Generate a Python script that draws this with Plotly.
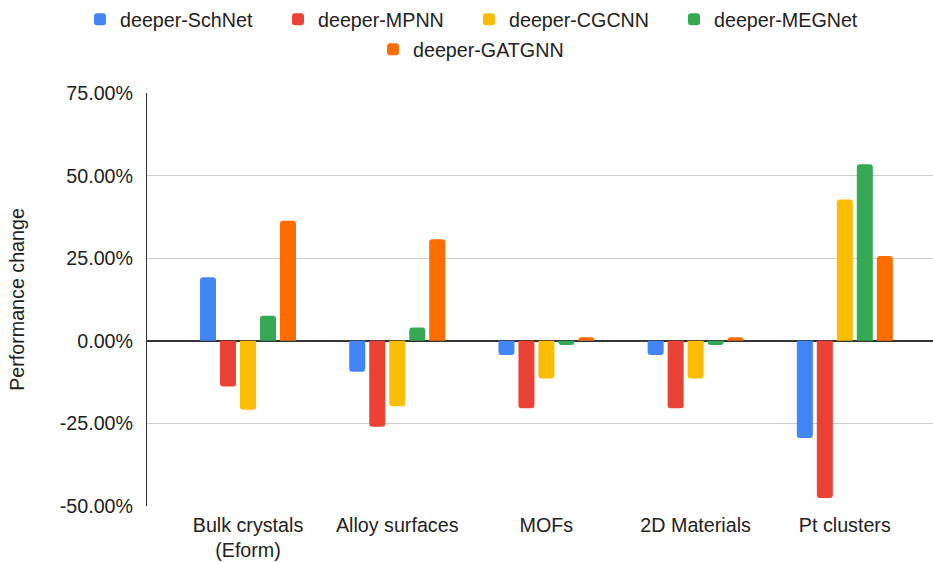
import plotly.graph_objects as go

categories = ["Bulk crystals<br>(Eform)", "Alloy surfaces", "MOFs", "2D Materials", "Pt clusters"]
series_names = ["deeper-SchNet", "deeper-MPNN", "deeper-CGCNN", "deeper-MEGNet", "deeper-GATGNN"]
schnet = [19.2, -9.4, -4.3, -4.3, -29.4]
mpnn = [-13.8, -26.0, -20.4, -20.4, -47.6]
cgcnn = [-20.9, -19.8, -11.4, -11.4, 42.8]
megnet = [7.6, 4.0, -1.3, -1.3, 53.4]
gatgnn = [36.3, 30.7, 1.1, 1.1, 25.7]
colors = ["#4285F4", "#EA4335", "#FBBC04", "#34A853", "#FF6D01"]
y_ticks = [-50, -25, 0, 25, 50, 75]
y_tick_text = ["-50.00%", "-25.00%", "0.00%", "25.00%", "50.00%", "75.00%"]

series_values = [schnet, mpnn, cgcnn, megnet, gatgnn]

W, H = 933, 562
FS = 19.7
TXT = "#222222"
font = "Arial, Liberation Sans, sans-serif"

# legend item layout: (left px, centre y px from top)
legend_pos = [(89, 19.5), (287, 19.5), (478, 19.5), (683, 19.5), (382, 49.5)]
LEG_OFF = 9  # distance from legend box left to marker left

fig = go.Figure()
legend_layout = {}
for i, (name, vals, col) in enumerate(zip(series_names, series_values, colors)):
    lname = "legend" if i == 0 else f"legend{i+1}"
    fig.add_trace(go.Bar(
        x=categories, y=vals, name=name,
        marker=dict(color=col, line=dict(width=0)),
        legend=lname, showlegend=True,
    ))
    lx, ly = legend_pos[i]
    legend_layout[lname] = dict(
        orientation="h", xref="container", yref="container",
        x=(lx - LEG_OFF) / W, xanchor="left", y=1 - ly / H, yanchor="middle",
        font=dict(size=FS, color=TXT, family=font), bgcolor="rgba(0,0,0,0)",
    )

fig.update_layout(
    width=W, height=H, showlegend=True,
    margin=dict(l=147, r=0, t=92.5, b=56, autoexpand=False),
    paper_bgcolor="white", plot_bgcolor="white",
    font=dict(family=font, size=FS, color=TXT),
    barmode="group", bargap=0.33, bargroupgap=0.2, barcornerradius=3,
    xaxis=dict(type="category", range=[-0.677, 4.591], showgrid=False,
               showline=False, ticks="", tickfont=dict(size=FS, color=TXT),
               ticklabelstandoff=5, automargin=False),
    yaxis=dict(range=[-50, 75], tickvals=y_ticks, ticktext=y_tick_text,
               showgrid=True, gridcolor="#cccccc", gridwidth=1,
               zeroline=True, zerolinecolor="#333333", zerolinewidth=1.5,
               showline=True, linecolor="#333333", linewidth=1,
               ticks="", ticklabelstandoff=9, automargin=False,
               tickfont=dict(size=FS, color=TXT),
               title=dict(text="Performance change", font=dict(size=FS, color=TXT), standoff=29)),
    **legend_layout,
)

fig.write_html("out.html", config={"displayModeBar": False},
               post_script="document.body.style.margin='0px';")
